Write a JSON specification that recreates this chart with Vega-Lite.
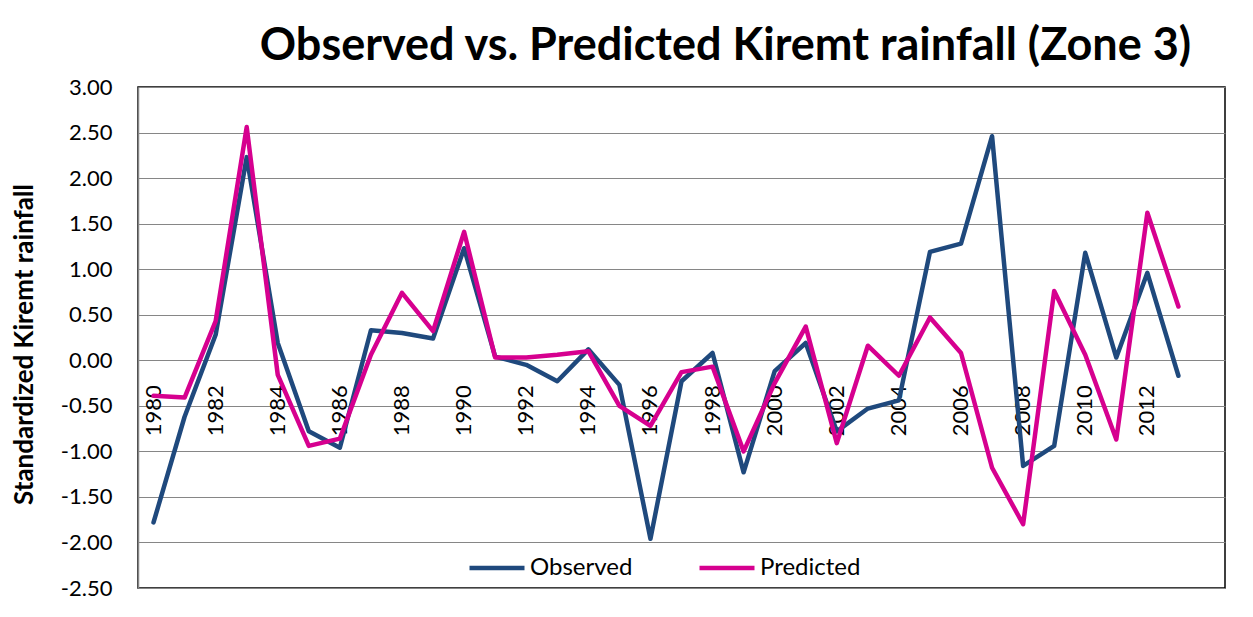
{
  "$schema": "https://vega.github.io/schema/vega-lite/v6.json",
  "width": 1087,
  "height": 501,
  "autosize": {"type": "none"},
  "padding": {"left": 138, "top": 87, "right": 28, "bottom": 29},
  "background": "white",
  "config": {"view": {"stroke": "#000", "strokeWidth": 1.5}, "font": "Lato"},
  "title": {"text": "Observed vs. Predicted Kiremt rainfall (Zone 3)", "font": "Lato", "fontSize": 45, "fontWeight": "bold", "color": "#000", "anchor": "middle", "dx": 44, "offset": 7},
  "data": {"values": [
    {"year": 1980, "series": "Observed", "value": -1.78},
    {"year": 1981, "series": "Observed", "value": -0.62},
    {"year": 1982, "series": "Observed", "value": 0.28},
    {"year": 1983, "series": "Observed", "value": 2.23},
    {"year": 1984, "series": "Observed", "value": 0.19},
    {"year": 1985, "series": "Observed", "value": -0.78},
    {"year": 1986, "series": "Observed", "value": -0.96},
    {"year": 1987, "series": "Observed", "value": 0.33},
    {"year": 1988, "series": "Observed", "value": 0.30},
    {"year": 1989, "series": "Observed", "value": 0.24},
    {"year": 1990, "series": "Observed", "value": 1.23},
    {"year": 1991, "series": "Observed", "value": 0.04},
    {"year": 1992, "series": "Observed", "value": -0.05},
    {"year": 1993, "series": "Observed", "value": -0.23},
    {"year": 1994, "series": "Observed", "value": 0.12},
    {"year": 1995, "series": "Observed", "value": -0.27},
    {"year": 1996, "series": "Observed", "value": -1.96},
    {"year": 1997, "series": "Observed", "value": -0.23},
    {"year": 1998, "series": "Observed", "value": 0.08},
    {"year": 1999, "series": "Observed", "value": -1.23},
    {"year": 2000, "series": "Observed", "value": -0.12},
    {"year": 2001, "series": "Observed", "value": 0.19},
    {"year": 2002, "series": "Observed", "value": -0.78},
    {"year": 2003, "series": "Observed", "value": -0.53},
    {"year": 2004, "series": "Observed", "value": -0.44},
    {"year": 2005, "series": "Observed", "value": 1.19},
    {"year": 2006, "series": "Observed", "value": 1.28},
    {"year": 2007, "series": "Observed", "value": 2.46},
    {"year": 2008, "series": "Observed", "value": -1.16},
    {"year": 2009, "series": "Observed", "value": -0.94},
    {"year": 2010, "series": "Observed", "value": 1.18},
    {"year": 2011, "series": "Observed", "value": 0.03},
    {"year": 2012, "series": "Observed", "value": 0.96},
    {"year": 2013, "series": "Observed", "value": -0.17},
    {"year": 1980, "series": "Predicted", "value": -0.39},
    {"year": 1981, "series": "Predicted", "value": -0.41},
    {"year": 1982, "series": "Predicted", "value": 0.43},
    {"year": 1983, "series": "Predicted", "value": 2.56},
    {"year": 1984, "series": "Predicted", "value": -0.16},
    {"year": 1985, "series": "Predicted", "value": -0.94},
    {"year": 1986, "series": "Predicted", "value": -0.86},
    {"year": 1987, "series": "Predicted", "value": 0.06},
    {"year": 1988, "series": "Predicted", "value": 0.74},
    {"year": 1989, "series": "Predicted", "value": 0.32},
    {"year": 1990, "series": "Predicted", "value": 1.41},
    {"year": 1991, "series": "Predicted", "value": 0.03},
    {"year": 1992, "series": "Predicted", "value": 0.03},
    {"year": 1993, "series": "Predicted", "value": 0.06},
    {"year": 1994, "series": "Predicted", "value": 0.10},
    {"year": 1995, "series": "Predicted", "value": -0.50},
    {"year": 1996, "series": "Predicted", "value": -0.72},
    {"year": 1997, "series": "Predicted", "value": -0.13},
    {"year": 1998, "series": "Predicted", "value": -0.07},
    {"year": 1999, "series": "Predicted", "value": -1.00},
    {"year": 2000, "series": "Predicted", "value": -0.25},
    {"year": 2001, "series": "Predicted", "value": 0.37},
    {"year": 2002, "series": "Predicted", "value": -0.91},
    {"year": 2003, "series": "Predicted", "value": 0.16},
    {"year": 2004, "series": "Predicted", "value": -0.17},
    {"year": 2005, "series": "Predicted", "value": 0.47},
    {"year": 2006, "series": "Predicted", "value": 0.08},
    {"year": 2007, "series": "Predicted", "value": -1.18},
    {"year": 2008, "series": "Predicted", "value": -1.80},
    {"year": 2009, "series": "Predicted", "value": 0.76},
    {"year": 2010, "series": "Predicted", "value": 0.06},
    {"year": 2011, "series": "Predicted", "value": -0.87},
    {"year": 2012, "series": "Predicted", "value": 1.62},
    {"year": 2013, "series": "Predicted", "value": 0.59}
  ]},
  "layer": [
    {
      "transform": [{"filter": "datum.series == 'Observed' && datum.year % 2 == 0"}],
      "mark": {"type": "text", "angle": 270, "align": "right", "baseline": "middle", "dx": -25, "font": "Lato", "fontSize": 22, "color": "#000"},
      "encoding": {
        "x": {"field": "year", "type": "quantitative", "scale": {"domain": [1979.5, 2014.5], "nice": false, "zero": false}, "axis": null},
        "y": {"datum": 0, "type": "quantitative"},
        "text": {"field": "year", "type": "nominal"}
      }
    },
    {
      "mark": {"type": "line", "strokeWidth": 4.5, "strokeJoin": "round", "strokeCap": "round"},
      "encoding": {
        "x": {"field": "year", "type": "quantitative", "scale": {"domain": [1979.5, 2014.5], "nice": false, "zero": false}, "axis": null},
        "y": {"field": "value", "type": "quantitative", "scale": {"domain": [-2.5, 3], "nice": false, "zero": false},
          "axis": {"title": "Standardized Kiremt rainfall", "values": [-2.5, -2, -1.5, -1, -0.5, 0, 0.5, 1, 1.5, 2, 2.5, 3], "format": ".2f",
            "labelExpr": "replace(datum.label, '\u2212', '-')",
            "labelFont": "Lato", "labelFontSize": 22, "labelColor": "#000", "labelPadding": 26, "labelOverlap": false, "labelFlush": false, "labelBound": false,
            "ticks": false, "domain": true, "domainColor": "#868686", "domainWidth": 1.5, "grid": true, "gridColor": "#868686", "gridWidth": 1.2,
            "titleFont": "Lato", "titleFontSize": 26, "titleFontWeight": "bold", "titleColor": "#000", "titleX": -114, "titleY": 257, "titleAngle": 270, "titleAlign": "center", "titleBaseline": "middle"}},
        "color": {"field": "series", "type": "nominal", "scale": {"domain": ["Observed", "Predicted"], "range": ["#1F497D", "#D6008F"]},
          "legend": {"orient": "none", "legendX": 329, "legendY": 451, "direction": "horizontal", "title": null, "symbolType": "stroke", "symbolSize": 3025, "symbolStrokeWidth": 4.5,
            "labelFont": "Lato", "labelFontSize": 24, "labelColor": "#000", "labelOffset": 3, "columnPadding": 57}}
      }
    }
  ]
}
